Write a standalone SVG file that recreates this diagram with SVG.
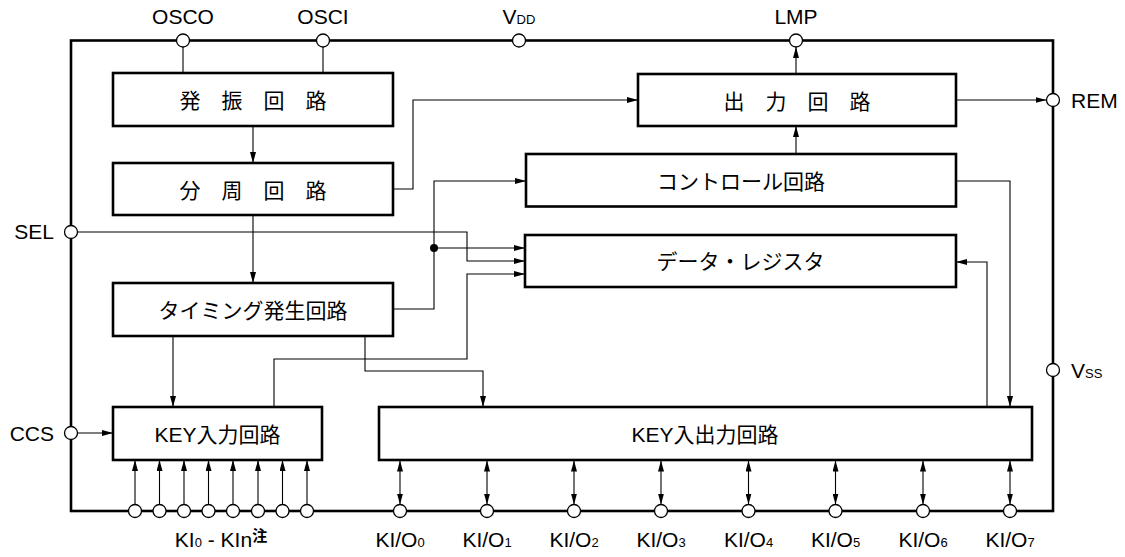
<svg xmlns="http://www.w3.org/2000/svg" width="1125" height="557" viewBox="0 0 1125 557">
<defs>
<marker id="ah" viewBox="0 0 11 6" markerWidth="11" markerHeight="6" refX="11" refY="3" orient="auto-start-reverse" markerUnits="userSpaceOnUse">
<path d="M0,0 L11,3 L0,6 z" fill="#000"/>
</marker>
<style>
.frame{fill:none;stroke:#000;stroke-width:2.6}
.box{fill:#fff;stroke:#000;stroke-width:2.6}
.pin{fill:#fff;stroke:#000;stroke-width:1.3}
.c{fill:none;stroke:#000;stroke-width:1.1}
.a{marker-end:url(#ah)}
.d{marker-start:url(#ah);marker-end:url(#ah)}
.t{font-family:"Liberation Sans","Noto Sans CJK JP",sans-serif;font-size:21px;fill:#000}
.m{text-anchor:middle}
.s{font-size:13px}
</style>
</defs>
<rect width="1125" height="557" fill="#fff"/>
<rect id="frame" class="frame" x="71" y="40.5" width="982" height="470.5"/>

<g id="connectors">
<line class="c" x1="183" y1="47" x2="183" y2="73"/>
<line class="c" x1="323" y1="47" x2="323" y2="73"/>
<line class="c a" x1="253" y1="126" x2="253" y2="163"/>
<line class="c a" x1="253" y1="215" x2="253" y2="283"/>
<polyline class="c a" points="393,189 413,189 413,100 638,100"/>
<line class="c a" x1="956" y1="100" x2="1046.5" y2="100"/>
<line class="c a" x1="796" y1="74" x2="796" y2="47"/>
<line class="c a" x1="796" y1="154" x2="796" y2="126"/>
<polyline class="c a" points="393,309 434,309 434,181 526,181"/>
<line class="c a" x1="434" y1="248" x2="525" y2="248"/>
<circle cx="434" cy="248" r="4" fill="#000"/>
<polyline class="c a" points="77.5,232 467,232 467,261 525,261"/>
<polyline class="c a" points="274,407 274,359 467,359 467,274 525,274"/>
<line class="c a" x1="173" y1="336" x2="173" y2="407"/>
<polyline class="c a" points="365,336 365,371 483,371 483,407"/>
<polyline class="c a" points="956,181 1010,181 1010,407"/>
<polyline class="c a" points="987,407 987,262 956,262"/>
<line class="c a" x1="77.5" y1="433" x2="113" y2="433"/>
<line class="c a" x1="135" y1="504.5" x2="135" y2="460"/>
<line class="c a" x1="159.5" y1="504.5" x2="159.5" y2="460"/>
<line class="c a" x1="184" y1="504.5" x2="184" y2="460"/>
<line class="c a" x1="208.5" y1="504.5" x2="208.5" y2="460"/>
<line class="c a" x1="233" y1="504.5" x2="233" y2="460"/>
<line class="c a" x1="258" y1="504.5" x2="258" y2="460"/>
<line class="c a" x1="282.5" y1="504.5" x2="282.5" y2="460"/>
<line class="c a" x1="307" y1="504.5" x2="307" y2="460"/>
<line class="c d" x1="400" y1="460.5" x2="400" y2="504.5"/>
<line class="c d" x1="487" y1="460.5" x2="487" y2="504.5"/>
<line class="c d" x1="574" y1="460.5" x2="574" y2="504.5"/>
<line class="c d" x1="661" y1="460.5" x2="661" y2="504.5"/>
<line class="c d" x1="748.5" y1="460.5" x2="748.5" y2="504.5"/>
<line class="c d" x1="835.5" y1="460.5" x2="835.5" y2="504.5"/>
<line class="c d" x1="923" y1="460.5" x2="923" y2="504.5"/>
<line class="c d" x1="1010" y1="460.5" x2="1010" y2="504.5"/>
</g>

<g id="osc">
<rect class="box" x="113" y="73" width="280" height="53"/>
<text class="t m" x="253" y="108">発　振　回　路</text>
</g>
<g id="div">
<rect class="box" x="113" y="163" width="280" height="52"/>
<text class="t m" x="253" y="197.5">分　周　回　路</text>
</g>
<g id="timing">
<rect class="box" x="113" y="283" width="280" height="53"/>
<text class="t m" x="253" y="318">タイミング発生回路</text>
</g>
<g id="keyin">
<rect class="box" x="113" y="407" width="209" height="53"/>
<text class="t m" x="217.5" y="442">KEY入力回路</text>
</g>
<g id="keyio">
<rect class="box" x="379" y="407" width="653" height="53"/>
<text class="t m" x="705" y="442">KEY入出力回路</text>
</g>
<g id="out">
<rect class="box" x="638" y="74" width="318" height="52"/>
<text class="t m" x="797" y="108.5">出　力　回　路</text>
</g>
<g id="ctrl">
<rect class="box" x="526" y="154" width="430" height="52.5"/>
<text class="t m" x="741" y="189" textLength="168" lengthAdjust="spacing">コントロール回路</text>
</g>
<g id="datareg">
<rect class="box" x="525" y="235" width="431" height="52"/>
<text class="t m" x="740.5" y="269">データ・レジスタ</text>
</g>

<g id="pins">
<circle class="pin" cx="183" cy="40.5" r="6.5"/>
<circle class="pin" cx="323" cy="40.5" r="6.5"/>
<circle class="pin" cx="519" cy="40.5" r="6.5"/>
<circle class="pin" cx="796" cy="40.5" r="6.5"/>
<circle class="pin" cx="71" cy="232" r="6.5"/>
<circle class="pin" cx="71" cy="433" r="6.5"/>
<circle class="pin" cx="1053" cy="100" r="6.5"/>
<circle class="pin" cx="1053" cy="370" r="6.5"/>
<circle class="pin" cx="135" cy="511" r="6.5"/>
<circle class="pin" cx="159.5" cy="511" r="6.5"/>
<circle class="pin" cx="184" cy="511" r="6.5"/>
<circle class="pin" cx="208.5" cy="511" r="6.5"/>
<circle class="pin" cx="233" cy="511" r="6.5"/>
<circle class="pin" cx="258" cy="511" r="6.5"/>
<circle class="pin" cx="282.5" cy="511" r="6.5"/>
<circle class="pin" cx="307" cy="511" r="6.5"/>
<circle class="pin" cx="400" cy="511" r="6.5"/>
<circle class="pin" cx="487" cy="511" r="6.5"/>
<circle class="pin" cx="574" cy="511" r="6.5"/>
<circle class="pin" cx="661" cy="511" r="6.5"/>
<circle class="pin" cx="748.5" cy="511" r="6.5"/>
<circle class="pin" cx="835.5" cy="511" r="6.5"/>
<circle class="pin" cx="923" cy="511" r="6.5"/>
<circle class="pin" cx="1010" cy="511" r="6.5"/>
</g>

<g id="labels">
<text class="t m" x="183" y="24">OSCO</text>
<text class="t m" x="323" y="24">OSCI</text>
<text class="t m" x="519" y="24">V<tspan class="s">DD</tspan></text>
<text class="t m" x="796" y="24">LMP</text>
<text class="t" x="1071" y="108">REM</text>
<text class="t" x="1071" y="378">V<tspan class="s">SS</tspan></text>
<text class="t" x="54" y="239" text-anchor="end">SEL</text>
<text class="t" x="54" y="441" text-anchor="end">CCS</text>
<text class="t m" x="221" y="547">KI<tspan class="s">0</tspan> - KIn<tspan font-size="15" font-weight="bold" dy="-6">注</tspan></text>
<text class="t m" x="400" y="547">KI/O<tspan class="s">0</tspan></text>
<text class="t m" x="487" y="547">KI/O<tspan class="s">1</tspan></text>
<text class="t m" x="574" y="547">KI/O<tspan class="s">2</tspan></text>
<text class="t m" x="661" y="547">KI/O<tspan class="s">3</tspan></text>
<text class="t m" x="748.5" y="547">KI/O<tspan class="s">4</tspan></text>
<text class="t m" x="835.5" y="547">KI/O<tspan class="s">5</tspan></text>
<text class="t m" x="923" y="547">KI/O<tspan class="s">6</tspan></text>
<text class="t m" x="1010" y="547">KI/O<tspan class="s">7</tspan></text>
</g>
</svg>
